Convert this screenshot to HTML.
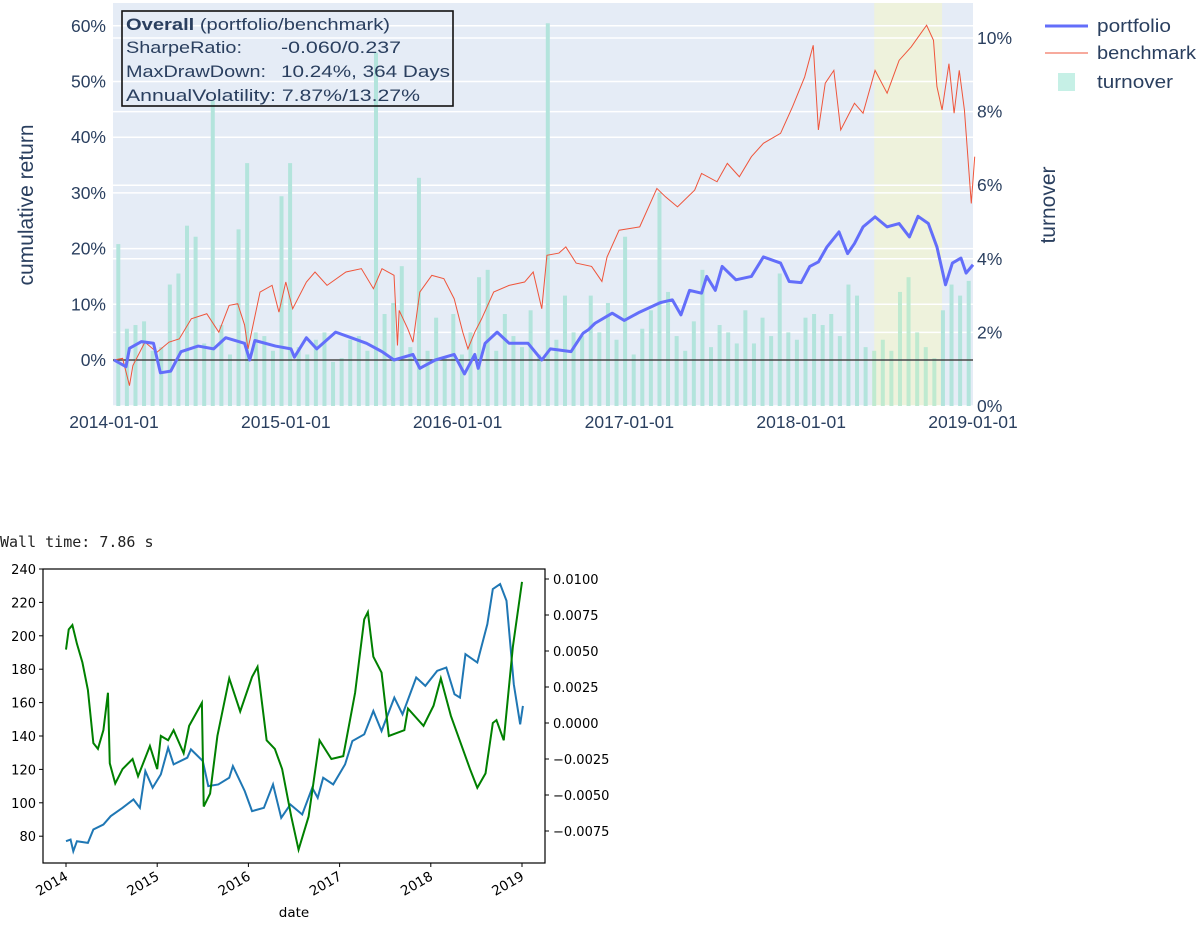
<!DOCTYPE html>
<html><head><meta charset="utf-8">
<style>
html,body{margin:0;padding:0;background:#fff;width:1200px;height:945px;overflow:hidden}
svg{display:block}
.pt{font-family:"Liberation Sans",sans-serif;fill:#2a3f5f}
.mt{font-family:"DejaVu Sans","Liberation Sans",sans-serif;fill:#000}
</style></head>
<body>
<svg id="c" width="1200" height="945" xmlns="http://www.w3.org/2000/svg"></svg>
<script>
// ---- top chart data ----
const pfYears=[2014.00,2014.07,2014.09,2014.16,2014.23,2014.27,2014.33,2014.39,2014.49,2014.58,2014.65,2014.76,2014.79,2014.82,2014.94,2015.03,2015.05,2015.12,2015.18,2015.29,2015.38,2015.47,2015.56,2015.63,2015.74,2015.78,2015.87,2015.98,2016.04,2016.10,2016.12,2016.16,2016.23,2016.30,2016.41,2016.49,2016.54,2016.59,2016.66,2016.73,2016.76,2016.80,2016.90,2016.97,2017.06,2017.18,2017.25,2017.30,2017.35,2017.42,2017.45,2017.50,2017.54,2017.62,2017.71,2017.78,2017.88,2017.93,2018.00,2018.05,2018.10,2018.15,2018.22,2018.27,2018.31,2018.36,2018.43,2018.50,2018.57,2018.63,2018.68,2018.74,2018.79,2018.84,2018.88,2018.93,2018.96,2019.00];
const pfValues=[0,-1.2,2.1,3.3,3,-2.3,-2,1.5,2.5,2,4,3,0,3.5,2.5,2,0.5,4,2,5,4,3,1.5,0,1,-1.5,0,1,-2.5,1,-1.5,3,5,3,3,0,2,1.8,1.5,4.8,5.4,6.6,8.4,7.1,8.6,10.3,10.8,8.1,12.5,12,15,12.5,16.8,14.4,15,18.5,17.4,14.1,13.9,16.8,17.6,20.3,23,19.1,20.9,23.9,25.7,23.9,24.5,22.1,25.8,24.5,20.3,13.5,17.4,18.3,15.6,17.1];
const bmYears=[2014.00,2014.05,2014.09,2014.11,2014.18,2014.25,2014.32,2014.38,2014.45,2014.54,2014.61,2014.67,2014.72,2014.76,2014.78,2014.85,2014.92,2014.96,2015.00,2015.04,2015.12,2015.17,2015.24,2015.35,2015.44,2015.51,2015.56,2015.63,2015.65,2015.66,2015.71,2015.74,2015.78,2015.85,2015.92,2015.98,2016.03,2016.06,2016.10,2016.14,2016.21,2016.30,2016.39,2016.44,2016.49,2016.52,2016.59,2016.63,2016.69,2016.78,2016.84,2016.87,2016.94,2017.06,2017.16,2017.21,2017.28,2017.38,2017.42,2017.51,2017.57,2017.64,2017.71,2017.78,2017.88,2017.95,2018.02,2018.07,2018.10,2018.14,2018.19,2018.23,2018.31,2018.36,2018.43,2018.50,2018.57,2018.64,2018.73,2018.77,2018.79,2018.82,2018.86,2018.89,2018.92,2018.95,2018.99,2019.01];
const bmValues=[0,0.3,-4.6,-1,3.2,1.4,3.2,3.8,7.4,8.3,5,9.8,10.1,6.3,2,12.2,13.4,8.6,14,9.2,14,15.8,13.4,15.8,16.4,12.8,16.4,15.2,2.6,8.9,5.6,3.2,12.2,15.2,14.6,11,5,2,5,7.4,12.2,13.4,14,15.8,9.2,18.8,19.2,20.3,17.4,16.8,14.1,18.5,23.3,23.9,30.8,29.3,27.5,30.5,33.5,32,35.3,32.9,36.5,38.9,40.7,45.5,50.8,56.5,41.3,49.7,52,41.3,46.1,44.3,52,47.9,53.8,56.2,60.1,57.4,49.1,44.9,53.2,44.3,52,44.9,28.1,36.5];
const turnoverStart=2014.025, turnoverStep=0.05;
const turnoverValues=[4.4,2.1,2.2,2.3,1.5,1.6,3.3,3.6,4.9,4.6,1.7,8.3,2.2,1.4,4.8,6.6,2.0,1.9,1.5,5.7,6.6,1.6,1.4,1.8,2.0,1.2,1.3,1.8,1.9,1.5,9.6,2.5,2.8,3.8,1.6,6.2,1.5,2.4,1.3,2.5,1.4,2.0,3.5,3.7,1.5,2.5,1.9,1.6,2.6,1.4,10.4,1.8,3.0,2.0,1.9,3.0,2.0,2.8,1.8,4.6,1.4,2.1,2.6,5.8,3.1,1.9,1.5,2.3,3.7,1.6,2.2,2.0,1.7,2.6,1.7,2.4,1.9,3.6,2.0,1.8,2.4,2.5,2.2,2.5,1.9,3.3,3.0,1.6,1.5,1.8,1.5,3.1,3.5,2.0,1.6,1.3,2.6,3.3,3.0,3.4];
const leftTicks=[0,10,20,30,40,50,60];
const rightTicks=[0,2,4,6,8,10];
const xTickYears=[2014,2015,2016,2017,2018,2019];
const xTickLabels=["2014-01-01","2015-01-01","2016-01-01","2017-01-01","2018-01-01","2019-01-01"];
const shadeRange=[2018.425,2018.82];
// ---- bottom chart data ----
const blueYears=[2014.0,2014.05,2014.08,2014.12,2014.24,2014.30,2014.41,2014.49,2014.62,2014.74,2014.81,2014.87,2014.95,2015.04,2015.12,2015.18,2015.33,2015.37,2015.50,2015.56,2015.67,2015.79,2015.83,2015.96,2016.04,2016.17,2016.27,2016.36,2016.46,2016.59,2016.70,2016.76,2016.82,2016.93,2017.06,2017.14,2017.27,2017.37,2017.46,2017.60,2017.69,2017.84,2017.94,2018.07,2018.17,2018.26,2018.32,2018.38,2018.51,2018.62,2018.68,2018.76,2018.83,2018.91,2018.98,2019.01];
const blueValues=[77,78,71,77,76,84,87,92,97,102,97,119,109,117,133,123,127,132,125,110,111,115,122,107,95,97,111,91,99,93,109,103,115,111,123,137,141,155,143,163,153,175,170,179,181,165,163,189,184,207,228,231,221,171,147,158];
const greenYears=[2014.0,2014.03,2014.07,2014.12,2014.18,2014.24,2014.30,2014.35,2014.41,2014.46,2014.48,2014.54,2014.62,2014.73,2014.79,2014.92,2015.00,2015.04,2015.12,2015.18,2015.29,2015.35,2015.49,2015.51,2015.58,2015.66,2015.79,2015.91,2016.04,2016.10,2016.20,2016.29,2016.37,2016.47,2016.55,2016.66,2016.78,2016.91,2017.04,2017.17,2017.27,2017.31,2017.37,2017.46,2017.54,2017.71,2017.75,2017.92,2018.03,2018.11,2018.22,2018.43,2018.51,2018.60,2018.68,2018.72,2018.80,2018.90,2019.0];
const greenValues=[0.0051,0.0065,0.0068,0.0055,0.0042,0.0023,-0.0014,-0.0018,-0.0005,0.0021,-0.0028,-0.0042,-0.0032,-0.0025,-0.0037,-0.0016,-0.0032,-0.0009,-0.0012,-0.0005,-0.0021,-0.0002,0.0014,-0.0058,-0.0049,-0.0009,0.0031,0.0008,0.0032,0.0039,-0.0012,-0.0018,-0.0032,-0.0065,-0.0088,-0.0065,-0.0012,-0.0025,-0.0023,0.0021,0.0072,0.0077,0.0046,0.0035,-0.0009,-0.0005,0.001,-0.0002,0.0012,0.0031,0.0005,-0.0032,-0.0045,-0.0035,0,0.0002,-0.0012,0.0053,0.0098];
const bLeftTicks=[80,100,120,140,160,180,200,220,240];
const bRightTicks=[0.01,0.0075,0.005,0.0025,0,-0.0025,-0.005,-0.0075];
const bRightLabels=["0.0100","0.0075","0.0050","0.0025","0.0000","\u22120.0025","\u22120.0050","\u22120.0075"];
const bXYears=[2014,2015,2016,2017,2018,2019];

const NS="http://www.w3.org/2000/svg";
const svg=document.getElementById('c');
function mk(tag,attrs,parent,text){const e=document.createElementNS(NS,tag);for(const k in attrs)e.setAttribute(k,attrs[k]);if(text!==undefined)e.textContent=text;(parent||svg).appendChild(e);return e;}

// ===== TOP CHART =====
const X0=113,X1=973,Y0=3,Y1=406;
const tx=y=>114+(y-2014)*171.8;
const ly=v=>360-v*5.57;
const ry=v=>406-v*36.8;
const bg=mk('rect',{x:X0,y:Y0,width:X1-X0,height:Y1-Y0,fill:'#e5ecf6'});


const sh=mk('rect',{x:tx(shadeRange[0]),y:Y0,width:tx(shadeRange[1])-tx(shadeRange[0]),height:Y1-Y0,fill:'#eef2dc'});


leftTicks.forEach(v=>{const l=mk('line',{x1:X0,x2:X1,y1:ly(v),y2:ly(v),stroke:'#fff','stroke-width':1.5});


const t=mk('text',{x:106,y:ly(v)+6,'text-anchor':'end','font-size':17.5,class:'pt'},null,v+'%');

});
rightTicks.forEach(v=>{const l=mk('line',{x1:X0,x2:X1,y1:ry(v),y2:ry(v),stroke:'#fff','stroke-width':1.5});


const t=mk('text',{x:977,y:ry(v)+6,'font-size':17.5,class:'pt'},null,v+'%');

});
const barG=mk('g',{});


turnoverValues.forEach((v,i)=>{const yr=turnoverStart+i*turnoverStep;const inS=yr>=shadeRange[0]&&yr<=shadeRange[1];
const b=mk('rect',{x:tx(yr)-2,y:ry(v),width:4,height:Y1-ry(v),fill:inS?'#bfead0':'#b3e4dc'},barG);

});
const z=mk('line',{x1:X0,x2:X1,y1:ly(0),y2:ly(0),stroke:'#444','stroke-width':1.5});


const bm=mk('polyline',{points:bmYears.map((y,i)=>tx(y)+','+ly(bmValues[i])).join(' '),fill:'none',stroke:'#ef553b','stroke-width':1});


const pf=mk('polyline',{points:pfYears.map((y,i)=>tx(y)+','+ly(pfValues[i])).join(' '),fill:'none',stroke:'#636efa','stroke-width':3,'stroke-linejoin':'round'});


xTickYears.forEach((y,i)=>{const t=mk('text',{x:tx(y),y:428,'text-anchor':'middle','font-size':17.5,class:'pt'},null,xTickLabels[i]);

});
const yt=mk('text',{x:33,y:205,'text-anchor':'middle','font-size':21,class:'pt',transform:'rotate(-90 33 205)'},null,'cumulative return');


const rt=mk('text',{x:1055,y:205,'text-anchor':'middle','font-size':21,class:'pt',transform:'rotate(-90 1055 205)'},null,'turnover');


</script>
<svg style="position:absolute;left:0;top:0" width="1200" height="945" xmlns="http://www.w3.org/2000/svg">
<g font-family="Liberation Sans,sans-serif" font-size="17" fill="#2a3f5f">
<rect x="122" y="11" width="331" height="95" fill="none" stroke="#111" stroke-width="1.6"/>
<text x="126" y="30" textLength="264" lengthAdjust="spacingAndGlyphs"><tspan font-weight="bold">Overall</tspan> (portfolio/benchmark)</text>
<text x="126" y="53" textLength="116" lengthAdjust="spacingAndGlyphs">SharpeRatio:</text><text x="281" y="53" textLength="120" lengthAdjust="spacingAndGlyphs">-0.060/0.237</text>
<text x="126" y="77" textLength="140" lengthAdjust="spacingAndGlyphs">MaxDrawDown:</text><text x="281" y="77" textLength="169" lengthAdjust="spacingAndGlyphs">10.24%, 364 Days</text>
<text x="126" y="101" textLength="294" lengthAdjust="spacingAndGlyphs">AnnualVolatility: 7.87%/13.27%</text>
</g>
<g font-family="Liberation Sans,sans-serif" font-size="18" fill="#2a3f5f">
<g><line x1="1045" y1="26" x2="1088" y2="26" stroke="#636efa" stroke-width="3"/><text x="1097" y="32" textLength="74" lengthAdjust="spacingAndGlyphs">portfolio</text></g>
<g><line x1="1045" y1="53" x2="1088" y2="53" stroke="#ef553b" stroke-width="1"/><text x="1097" y="59" textLength="99" lengthAdjust="spacingAndGlyphs">benchmark</text></g>
<g><rect x="1058" y="73" width="17" height="18" fill="#c6f0e6"/><text x="1097" y="88" textLength="76" lengthAdjust="spacingAndGlyphs">turnover</text></g>
</g>
<text x="0" y="547" font-family="DejaVu Sans Mono,Liberation Mono,monospace" font-size="15" fill="#222">Wall time: 7.86 s</text>
</svg>
<script>
// ===== BOTTOM CHART =====
const BX0=43,BX1=545,BY0=569,BY1=863;
const bx=y=>66+(y-2014)*91.2;
const bly=v=>569+(240-v)*1.67;
const bry=v=>723-v/0.0025*36;
const bl=mk('polyline',{points:blueYears.map((y,i)=>bx(y)+','+bly(blueValues[i])).join(' '),fill:'none',stroke:'#1f77b4','stroke-width':2});


const gl=mk('polyline',{points:greenYears.map((y,i)=>bx(y)+','+bry(greenValues[i])).join(' '),fill:'none',stroke:'#008000','stroke-width':2});


const box=mk('rect',{x:BX0,y:BY0,width:BX1-BX0,height:BY1-BY0,fill:'none',stroke:'#000','stroke-width':1.2});


bLeftTicks.forEach(v=>{mk('line',{x1:BX0-4,x2:BX0,y1:bly(v),y2:bly(v),stroke:'#000'});
const t=mk('text',{x:BX0-7,y:bly(v)+5,'text-anchor':'end','font-size':13,class:'mt'},null,String(v));

});
bRightTicks.forEach((v,i)=>{mk('line',{x1:BX1,x2:BX1+4,y1:bry(v),y2:bry(v),stroke:'#000'});
const t=mk('text',{x:BX1+8,y:bry(v)+5,'font-size':13,class:'mt'},null,bRightLabels[i]);

});
bXYears.forEach(y=>{const x=bx(y);mk('line',{x1:x,x2:x,y1:BY1,y2:BY1+4,stroke:'#000'});
const t=mk('text',{x:x+3,y:BY1+16,'text-anchor':'end','font-size':13.5,class:'mt',transform:'rotate(-30 '+(x+3)+' '+(BY1+16)+')'},null,String(y));

});
const dt=mk('text',{x:294,y:917,'text-anchor':'middle','font-size':13.5,class:'mt'},null,'date');


</script>
</body></html>
